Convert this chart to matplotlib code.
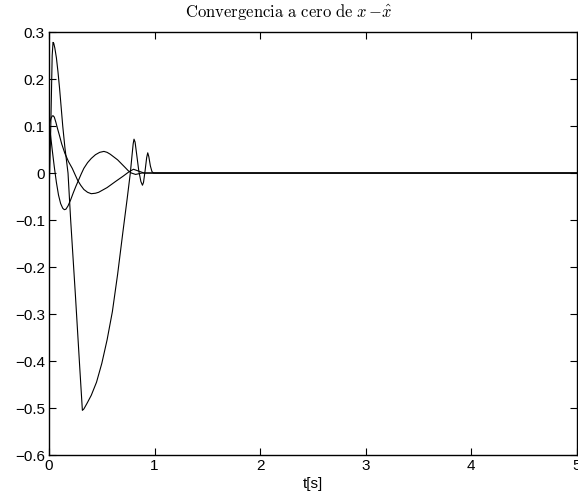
import matplotlib
matplotlib.use("Agg")
import matplotlib.pyplot as plt
from matplotlib.ticker import FuncFormatter

plt.rcParams["font.family"] = ["Liberation Sans", "DejaVu Sans"]
plt.rcParams["mathtext.fontset"] = "cm"

# Error curves x - x_hat
t_a = [0.0, 0.016, 0.03, 0.038, 0.045, 0.055, 0.07, 0.085, 0.1, 0.115, 0.13,
       0.15, 0.18, 0.205, 0.25, 0.29, 0.316, 0.33, 0.36, 0.4, 0.45, 0.5, 0.55,
       0.6, 0.65, 0.7, 0.74, 0.77, 0.785, 0.797, 0.805, 0.815, 0.83, 0.85,
       0.87, 0.885, 0.895, 0.91, 0.925, 0.935, 0.945, 0.96, 0.975, 0.99, 1.05,
       1.5, 2.0, 3.0, 4.0, 5.0]
e_a = [-0.05, 0.09, 0.25, 0.278, 0.276, 0.266, 0.245, 0.215, 0.18, 0.14, 0.1,
       0.055, 0.0, -0.1, -0.26, -0.41, -0.505, -0.502, -0.49, -0.473, -0.445,
       -0.405, -0.355, -0.295, -0.215, -0.125, -0.055, 0.0, 0.035, 0.062,
       0.072, 0.066, 0.04, 0.005, -0.018, -0.026, -0.02, 0.005, 0.033, 0.043,
       0.035, 0.015, 0.003, 0.0, 0.0, 0.0, 0.0, 0.0, 0.0, 0.0]

t_b = [0.0, 0.01, 0.02, 0.03, 0.038, 0.05, 0.065, 0.08, 0.1, 0.12, 0.15, 0.185,
       0.22, 0.27, 0.3, 0.33, 0.365, 0.4, 0.44, 0.47, 0.51, 0.55, 0.63, 0.7,
       0.76, 0.8, 0.85, 0.9, 1.5, 3.0, 5.0]
e_b = [0.10, 0.11, 0.117, 0.121, 0.122, 0.119, 0.108, 0.095, 0.079, 0.062,
       0.042, 0.024, 0.01, -0.015, -0.026, -0.035, -0.041, -0.044, -0.043,
       -0.041, -0.036, -0.031, -0.018, -0.007, 0.003, 0.008, 0.004, 0.0, 0.0,
       0.0, 0.0]

t_c = [0.0, 0.015, 0.03, 0.05, 0.07, 0.09, 0.11, 0.13, 0.145, 0.16, 0.18, 0.205,
       0.23, 0.255, 0.28, 0.305, 0.33, 0.365, 0.4, 0.44, 0.48, 0.52, 0.55,
       0.58, 0.615, 0.65, 0.685, 0.72, 0.75, 0.78, 0.82, 0.88, 1.5, 3.0, 5.0]
e_c = [0.11, 0.08, 0.05, 0.013, -0.02, -0.047, -0.065, -0.075, -0.078, -0.077,
       -0.07, -0.057, -0.042, -0.028, -0.015, -0.002, 0.01, 0.022, 0.031,
       0.039, 0.044, 0.046, 0.044, 0.04, 0.034, 0.028, 0.02, 0.012, 0.005, 0.0,
       -0.003, 0.0, 0.0, 0.0, 0.0]

x_ticks = [0, 1, 2, 3, 4, 5]
y_ticks = [-0.6, -0.5, -0.4, -0.3, -0.2, -0.1, 0, 0.1, 0.2, 0.3]

fig = plt.figure(figsize=(5.78, 4.98), dpi=100)
ax = fig.add_axes([0.0848, 0.0863, 0.9134, 0.8494])

for t, e in [(t_a, e_a), (t_b, e_b), (t_c, e_c)]:
    ax.plot(t, e, color="black", linewidth=0.8)

ax.set_xlim(0, 5)
ax.set_ylim(-0.6, 0.3)
ax.set_xticks(x_ticks)
ax.set_yticks(y_ticks)
ax.yaxis.set_major_formatter(FuncFormatter(lambda v, p: ("%g" % round(v, 2)).replace("-", "\u2212")))
ax.tick_params(direction="in", top=True, right=True, length=5, width=0.8,
               labelsize=11, pad=3)
for s in ax.spines.values():
    s.set_linewidth(1.0)

ax.set_xlabel("t[s]", fontsize=11, labelpad=3)
# title sits centred on the figure, not on the axes
fig.text(0.5, 0.965, r"$\mathrm{Convergencia\ a\ cero\ de\ }x\,\mathrm{-}\hat{x}$",
         fontsize=12, ha="center", va="baseline")

fig.savefig("out.png", dpi=100)
